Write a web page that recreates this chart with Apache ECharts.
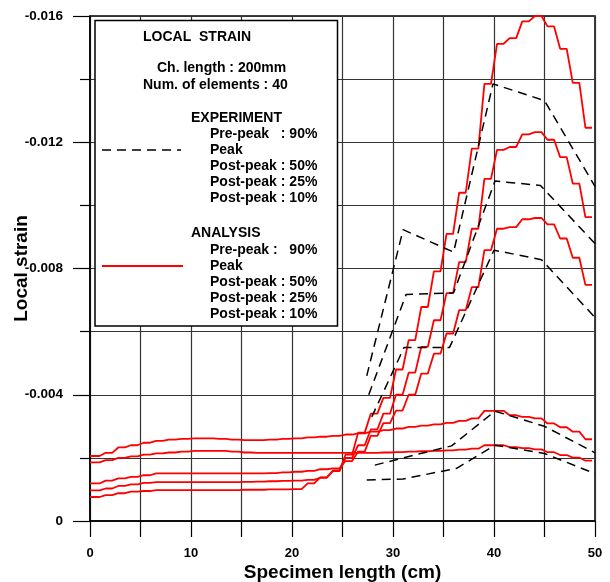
<!DOCTYPE html>
<html>
<head>
<meta charset="utf-8">
<title>Local strain</title>
<script src="https://cdn.jsdelivr.net/npm/echarts@6/dist/echarts.min.js"></script>
</head>
<body style="margin:0">
<div id="main" style="width:610px;height:582px;"></div>
<script type="text/javascript">
// element length: 40 elements over 50 cm
var elemLen = 1.25;

// analysis: strain per element (shown negative on the axis)
var anaPrePeak90 = [0.00186, 0.00193, 0.00200, 0.00205, 0.00210, 0.00214, 0.00217, 0.00220, 0.00222, 0.00222,
  0.00222, 0.00220, 0.00217, 0.00216, 0.00216, 0.00216, 0.00216, 0.00216, 0.00216, 0.00216,
  0.00216, 0.00216, 0.00216, 0.00217, 0.00218, 0.00220, 0.00221, 0.00222, 0.00224, 0.00226,
  0.00229, 0.00240, 0.00240, 0.00234, 0.00231, 0.00227, 0.00218, 0.00209, 0.00201, 0.00191];
var anaPeak = [0.00206, 0.00216, 0.00233, 0.00240, 0.00248, 0.00254, 0.00258, 0.00260, 0.00262, 0.00262,
  0.00260, 0.00258, 0.00256, 0.00256, 0.00258, 0.00260, 0.00262, 0.00265, 0.00267, 0.00270,
  0.00274, 0.00278, 0.00283, 0.00288, 0.00293, 0.00298, 0.00302, 0.00306, 0.00311, 0.00317,
  0.00325, 0.00349, 0.00349, 0.00335, 0.00330, 0.00325, 0.00309, 0.00297, 0.00283, 0.00259];
var anaPost50 = [0.00119, 0.00128, 0.00135, 0.00140, 0.00145, 0.00151, 0.00151, 0.00151, 0.00151, 0.00151,
  0.00151, 0.00151, 0.00151, 0.00151, 0.00152, 0.00154, 0.00156, 0.00159, 0.00164, 0.00167,
  0.00190, 0.00220, 0.00270, 0.00310, 0.00350, 0.00400, 0.00467, 0.00530, 0.00594, 0.00668,
  0.00741, 0.00858, 0.00926, 0.00931, 0.00956, 0.00960, 0.00940, 0.00895, 0.00834, 0.00748];
var anaPost25 = [0.00097, 0.00103, 0.00111, 0.00116, 0.00121, 0.00123, 0.00123, 0.00123, 0.00123, 0.00123,
  0.00123, 0.00123, 0.00124, 0.00125, 0.00126, 0.00127, 0.00128, 0.00130, 0.00137, 0.00158,
  0.00200, 0.00240, 0.00290, 0.00340, 0.00400, 0.00470, 0.00552, 0.00636, 0.00722, 0.00820,
  0.00926, 0.01084, 0.01176, 0.01185, 0.01225, 0.01232, 0.01208, 0.01153, 0.01069, 0.00963];
var anaPost10 = [0.00076, 0.00082, 0.00088, 0.00093, 0.00095, 0.00098, 0.00098, 0.00098, 0.00098, 0.00098,
  0.00098, 0.00098, 0.00099, 0.00099, 0.00100, 0.00100, 0.00101, 0.00119, 0.00138, 0.00160,
  0.00210, 0.00280, 0.00340, 0.00390, 0.00480, 0.00573, 0.00678, 0.00791, 0.00910, 0.01040,
  0.01180, 0.01385, 0.01512, 0.01530, 0.01583, 0.01600, 0.01567, 0.01496, 0.01388, 0.01246];

// experiment: gauge positions (cm) and strains
var expPrePeak90X = [27.4, 31.0, 36.3, 40.1, 45.0, 50.0];
var expPrePeak90 = [0.00130, 0.00133, 0.00167, 0.00240, 0.00214, 0.00150];
var expPeakX = [28.2, 31.0, 35.8, 40.1, 45.0, 50.0];
var expPeak = [0.00177, 0.00200, 0.00238, 0.00348, 0.00300, 0.00216];
var expPost50X = [27.9, 31.1, 35.6, 40.0, 44.7, 50.0];
var expPost50 = [0.00330, 0.00550, 0.00550, 0.00858, 0.00828, 0.00645];
var expPost25X = [27.6, 31.3, 36.0, 40.1, 44.6, 50.0];
var expPost25 = [0.00400, 0.00718, 0.00723, 0.01077, 0.01063, 0.00879];
var expPost10X = [27.4, 31.0, 36.0, 39.9, 45.0, 50.0];
var expPost10 = [0.00460, 0.00923, 0.00852, 0.01385, 0.01332, 0.01060];

var FONT = '"Liberation Sans", Arial, Helvetica, sans-serif';

// each element drawn as a short plateau
function elemPoints(vals) {
  var pts = [];
  vals.forEach(function (v, i) {
    var x0 = i === 0 ? 0 : i * elemLen + 0.3;
    pts.push([x0, -v]);
    pts.push([i * elemLen + 0.95, -v]);
  });
  return pts;
}
function gaugePoints(xs, vals) {
  return xs.map(function (x, i) { return [x, -vals[i]]; });
}

var series = [];
[anaPrePeak90, anaPeak, anaPost50, anaPost25, anaPost10].forEach(function (a) {
  series.push({
    type: 'line', data: elemPoints(a), symbol: 'none', silent: true,
    lineStyle: { color: '#ff0000', width: 1.8 }, z: 3
  });
});
[[expPrePeak90X, expPrePeak90], [expPeakX, expPeak], [expPost50X, expPost50],
 [expPost25X, expPost25], [expPost10X, expPost10]].forEach(function (e) {
  series.push({
    type: 'line', data: gaugePoints(e[0], e[1]), symbol: 'none', silent: true,
    lineStyle: { color: '#000', width: 1.5, type: [9, 6] }, z: 4
  });
});

var gridLine = { show: true, lineStyle: { color: '#333', width: 1.2 } };

// legend box text, anchored at its vertical centre
function legendText(str, x, y) {
  return { type: 'text', x: x, y: y, z: 20,
    style: { text: str, font: 'bold 14px ' + FONT, fill: '#000',
      textVerticalAlign: 'middle', verticalAlign: 'middle' } };
}

var myChart = echarts.init(document.getElementById('main'));
var option = {
  animation: false,
  backgroundColor: '#fff',
  grid: { left: 90, top: 16, width: 505, height: 505, show: true, borderColor: '#000', borderWidth: 1.5,
    containLabel: false, outerBoundsMode: 'none' },
  xAxis: {
    type: 'value', min: 0, max: 50, interval: 5,
    axisLine: { show: true, lineStyle: { color: '#000', width: 1.5 } },
    axisTick: { show: true, length: 16, lineStyle: { color: '#000', width: 1.2 } },
    axisLabel: { margin: 26, fontFamily: FONT, fontWeight: 'bold', fontSize: 13, color: '#000',
      formatter: function (v) { return v % 10 === 0 ? String(v) : ''; } },
    splitLine: gridLine,
    name: 'Specimen length (cm)', nameLocation: 'middle', nameGap: 42, nameMoveOverlap: false,
    nameTextStyle: { fontFamily: FONT, fontWeight: 'bold', fontSize: 19, color: '#000' }
  },
  yAxis: {
    type: 'value', min: -0.016, max: 0, interval: 0.004, inverse: true,
    axisLine: { show: true, lineStyle: { color: '#000', width: 1.5 } },
    axisTick: { show: true, length: 17, lineStyle: { color: '#000', width: 1.2 } },
    minorTick: { show: true, splitNumber: 2, length: 10, lineStyle: { color: '#000', width: 1.2 } },
    minorSplitLine: gridLine,
    axisLabel: { margin: 27, fontFamily: FONT, fontWeight: 'bold', fontSize: 13.5, color: '#000',
      formatter: function (v) { return Math.abs(v) < 1e-9 ? '0' : v.toFixed(3); } },
    splitLine: gridLine,
    name: 'Local strain', nameLocation: 'middle', nameGap: 59, nameRotate: 90, nameMoveOverlap: false,
    nameTextStyle: { fontFamily: FONT, fontWeight: 'bold', fontSize: 19, color: '#000' }
  },
  graphic: [
    { type: 'rect', z: 10, shape: { x: 95, y: 20.5, width: 242.5, height: 305.5 },
      style: { fill: '#fff', stroke: '#000', lineWidth: 1.5 } },
    legendText('LOCAL  STRAIN', 143, 37),
    legendText('Ch. length : 200mm', 157, 68),
    legendText('Num. of elements : 40', 143, 85),
    legendText('EXPERIMENT', 191, 118),
    legendText('Pre-peak   : 90%', 210, 134.5),
    legendText('Peak', 210, 150.5),
    legendText('Post-peak : 50%', 210, 166.5),
    legendText('Post-peak : 25%', 210, 182.5),
    legendText('Post-peak : 10%', 210, 198.5),
    { type: 'line', z: 20, shape: { x1: 102, y1: 150, x2: 181, y2: 150 },
      style: { stroke: '#000', lineWidth: 1.5, lineDash: [9, 6] } },
    legendText('ANALYSIS', 191, 233.5),
    legendText('Pre-peak :   90%', 210, 250),
    legendText('Peak', 210, 266),
    legendText('Post-peak : 50%', 210, 282),
    legendText('Post-peak : 25%', 210, 298),
    legendText('Post-peak : 10%', 210, 314),
    { type: 'line', z: 20, shape: { x1: 102, y1: 266, x2: 183, y2: 266 },
      style: { stroke: '#ff0000', lineWidth: 1.8 } }
  ],
  series: series
};
myChart.setOption(option);
</script>
</body>
</html>
